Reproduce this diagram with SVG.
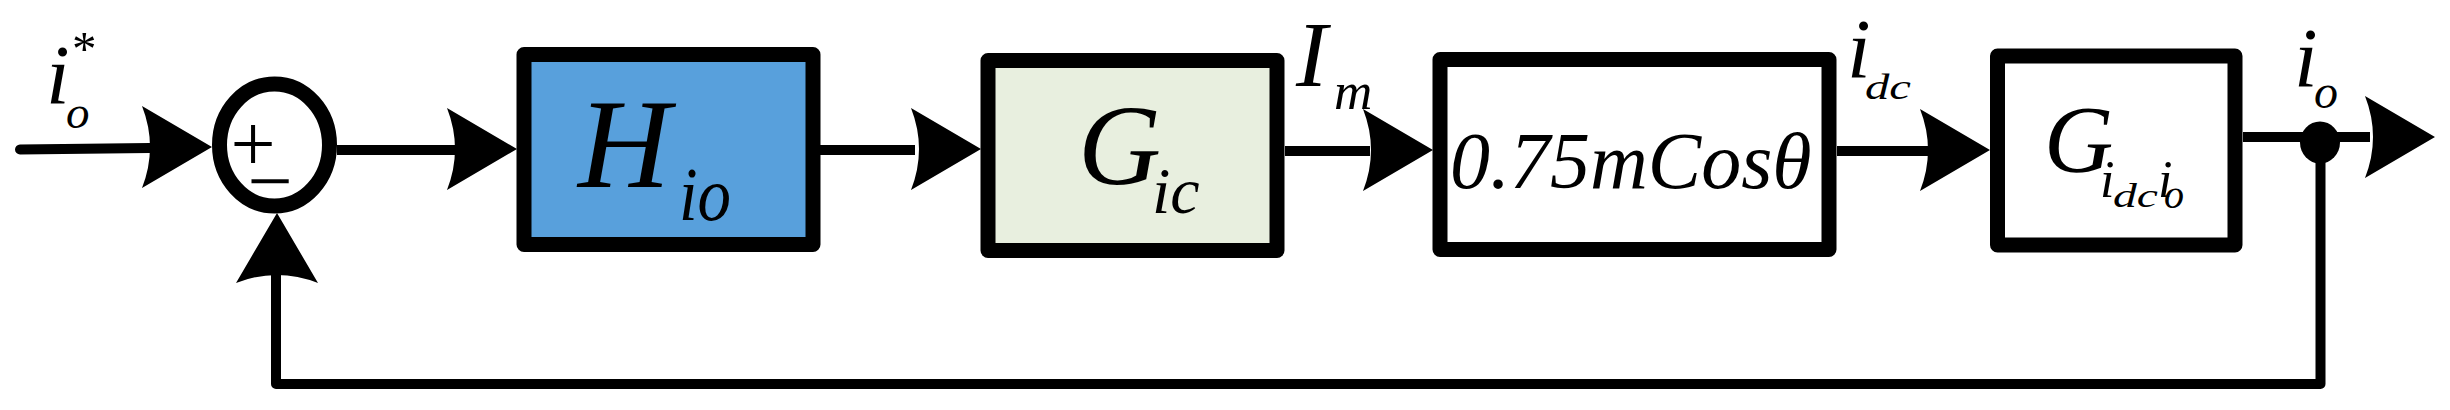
<svg xmlns="http://www.w3.org/2000/svg" xmlns:xlink="http://www.w3.org/1999/xlink" width="2450" height="410" viewBox="0 0 2450 410">
<style>
.blk{fill:none;stroke:#000;stroke-width:15;stroke-linejoin:round}
.ln{fill:none;stroke:#000;stroke-width:10}
.t{font-family:"Liberation Serif","Times New Roman",serif;font-style:italic;fill:#000}
.u{font-family:"Liberation Serif","Times New Roman",serif;font-style:normal;fill:#000}
</style>
<defs>
<path id="ah" d="M0,0 L-70,-41 Q-54,0 -70,41 Z" fill="#000"/>
</defs>
<rect width="2450" height="410" fill="#fff"/>
<g id="connectors">
<path class="ln" d="M20,149.5 L150,148" stroke-linecap="round"/>
<path class="ln" d="M337,150 L455,150"/>
<path class="ln" d="M820,150 L915,150"/>
<path class="ln" d="M1285,151 L1370,151"/>
<path class="ln" d="M1837,151 L1930,151"/>
<path class="ln" d="M2243,137 L2370,137"/>
<path class="ln" d="M2320.5,142 L2320.5,384 L276,384 L276,275" stroke-linejoin="round"/>
<use xlink:href="#ah" transform="translate(212,147)"/>
<use xlink:href="#ah" transform="translate(517,149)"/>
<use xlink:href="#ah" transform="translate(981,149)"/>
<use xlink:href="#ah" transform="translate(1433,150)"/>
<use xlink:href="#ah" transform="translate(1990,150)"/>
<use xlink:href="#ah" transform="translate(2435,137)"/>
<use xlink:href="#ah" transform="translate(277,213) rotate(-90)"/>
<ellipse cx="2320" cy="142.5" rx="20" ry="21" fill="#000"/>
</g>
<g id="label-in">
<text class="t" x="46" y="104" font-size="85">i</text>
<text class="t" x="66" y="128" font-size="47">o</text>
<text class="u" x="72" y="65" font-size="49">*</text>
</g>
<g id="sum">
<ellipse cx="274.5" cy="145" rx="55" ry="61" fill="#fff" stroke="#000" stroke-width="15"/>
<text class="u" x="230.6" y="171" font-size="80">+</text>
<text class="u" x="247.6" y="208" font-size="80">−</text>
</g>
<g id="Hio">
<rect class="blk" x="524" y="54.5" width="289" height="190" style="fill:#58A0DC"/>
<text class="t" x="578" y="187" font-size="128">H</text>
<text class="t" x="679" y="220" font-size="76" textLength="52" lengthAdjust="spacingAndGlyphs">io</text>
</g>
<g id="Gic">
<rect class="blk" x="988" y="60.5" width="289" height="190" style="fill:#E8EFDF"/>
<text class="t" x="1078" y="184" font-size="115">G</text>
<text class="t" x="1152" y="213" font-size="66">ic</text>
</g>
<g id="label-Im">
<text class="t" x="1296" y="86" font-size="94">I</text>
<text class="t" x="1334" y="109" font-size="53">m</text>
</g>
<g id="gain">
<rect class="blk" x="1440" y="59.5" width="389" height="190" style="fill:#fff"/>
<text class="t" x="1450" y="188" font-size="80">0.75mCosθ</text>
</g>
<g id="label-idc">
<text class="t" x="1847" y="78" font-size="85">i</text>
<text class="t" x="1865" y="99" font-size="36" textLength="46" lengthAdjust="spacingAndGlyphs">dc</text>
</g>
<g id="Gidcio">
<rect class="blk" x="1997.5" y="56" width="237.5" height="189" style="fill:#fff"/>
<text class="t" x="2044" y="172" font-size="96">G</text>
<text class="t" x="2100" y="197" font-size="52">i</text>
<text class="t" x="2113" y="207" font-size="34" textLength="45" lengthAdjust="spacingAndGlyphs">dc</text>
<text class="t" x="2158" y="197" font-size="52">i</text>
<text class="t" x="2164" y="208" font-size="40">o</text>
</g>
<g id="label-io">
<text class="t" x="2294" y="87" font-size="85">i</text>
<text class="t" x="2314" y="108" font-size="48">o</text>
</g>
</svg>
